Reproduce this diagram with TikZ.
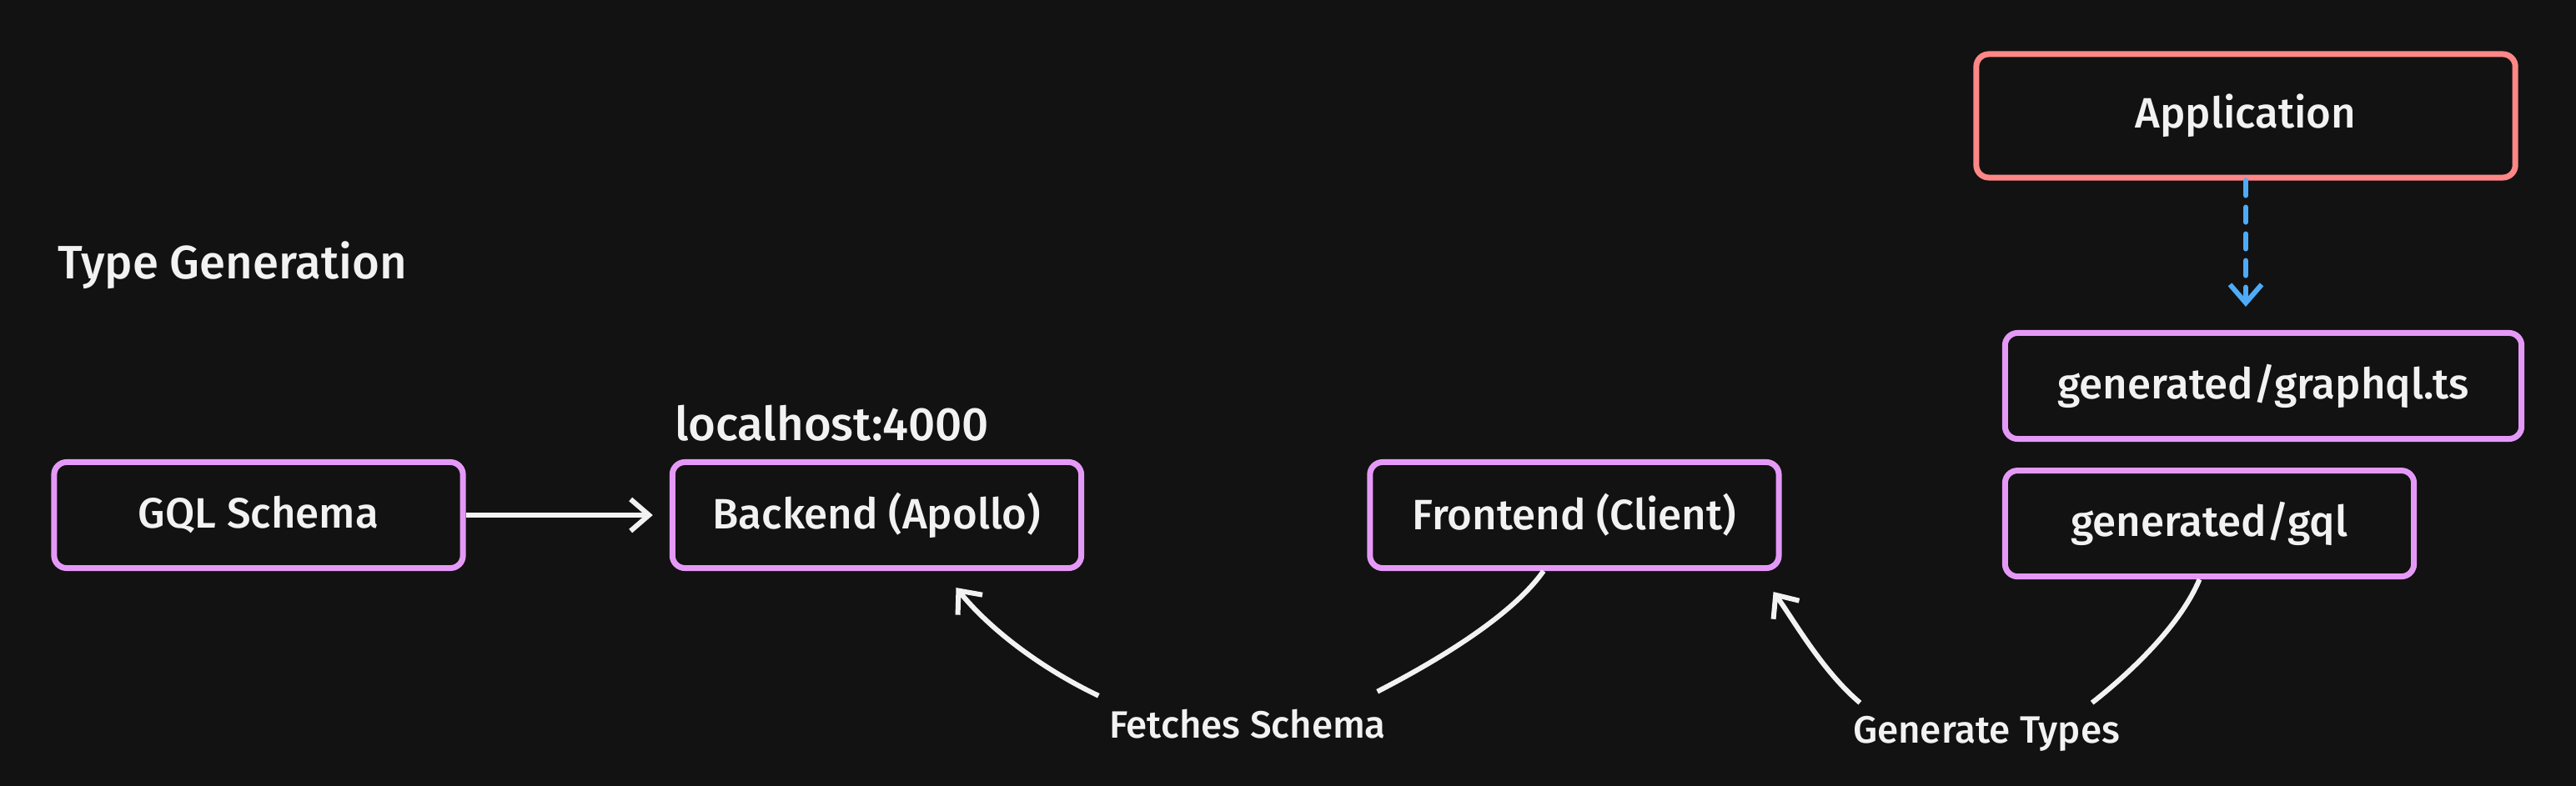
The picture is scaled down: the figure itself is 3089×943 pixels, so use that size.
\documentclass[tikz,border=0pt]{standalone}
\usepackage{fontspec}
\setmainfont{Fira Sans}[UprightFont=* Medium]
\usetikzlibrary{arrows.meta, positioning}
\definecolor{canvas}{HTML}{121212}
\definecolor{violetline}{HTML}{E599F7}
\definecolor{redline}{HTML}{FF8787}
\definecolor{blueline}{HTML}{4DABF7}
\definecolor{inkwhite}{HTML}{F2F2F2}
\tikzset{
    base/.style = {
        draw, line width=0.07cm, rounded corners=0.15cm, fill=canvas,
        text=inkwhite, text centered, font=\fontsize{14.5}{17}\selectfont
    },
    % Components
    module/.style = {base, draw=violetline, minimum width=4.9cm, minimum height=1.27cm},
    app/.style    = {base, draw=redline, minimum width=6.46cm, minimum height=1.48cm},
    % Edges and annotations
    arrow/.style  = {line width=0.06cm, draw=inkwhite, -{Straight Barb[length=0.22cm, width=0.38cm]}},
    link/.style   = {line width=0.06cm, draw=inkwhite},
    dashed_arrow/.style = {line width=0.06cm, draw=blueline, line cap=round, dash pattern=on 0.18cm off 0.14cm,
        -{Straight Barb[length=0.22cm, width=0.38cm]}},
    title/.style  = {text=inkwhite, font=\fontsize{16}{19}\selectfont},
    annotation/.style = {text=inkwhite, font=\fontsize{13}{15}\selectfont, align=center, inner sep=2pt}
}

\begin{document}
\begin{tikzpicture}[x=0.01cm, y=0.01cm]
    \fill[canvas] (0,0) rectangle (3089,-943);
    \useasboundingbox (0,0) rectangle (3089,-943);

    \node (heading) [title, anchor=west] at (57,-318) {Type Generation};

    \node (gql) [module] at (310,-618) {GQL Schema};
    \node (backend) [module, right=2.44cm of gql] {Backend (Apollo)};
    \node (host) [title, above right=0.1cm and -0.05cm of backend.north west, inner sep=3pt] {localhost:4000};
    \node (frontend) [module, right=3.39cm of backend] {Frontend (Client)};

    \node (app) [app] at (2693,-139) {Application};
    \node (gents) [module, minimum width=6.19cm] at (2714,-463) {generated/graphql.ts};
    \node (genql) [module, below right=0.31cm and 0cm of gents.south west] {generated/gql};

    \node (fetch) [annotation] at (1496,-869) {Fetches Schema};
    \node (gentypes) [annotation] at (2382,-880) {Generate Types};

    \draw [arrow, shorten >=0.2cm] (gql.east) -- (backend.west);
    \draw [dashed_arrow, shorten >=0.28cm] (app.south) -- (gents.north -| app.south);

    % Schema fetch
    \draw [link] ([xshift=-0.37cm]frontend.south) .. controls +(-40,-57) and +(62,32) .. ([xshift=-0.18cm, yshift=0.14cm]fetch.north east);
    \draw [arrow] ([xshift=-0.05cm, yshift=0.09cm]fetch.north west) .. controls +(-63,30) and +(44,-54) .. ([xshift=0.95cm, yshift=-0.2cm]backend.south);

    % Codegen
    \draw [link] ([xshift=-0.12cm]genql.south) .. controls +(-23,-55) and +(47,37) .. ([xshift=-0.41cm, yshift=0.08cm]gentypes.north east);
    \draw [arrow] ([xshift=0.16cm, yshift=0.08cm]gentypes.north west) .. controls +(-45,38) and +(25,-35) .. ([xshift=-0.1cm, yshift=-0.25cm]frontend.south east);
\end{tikzpicture}
\end{document}
